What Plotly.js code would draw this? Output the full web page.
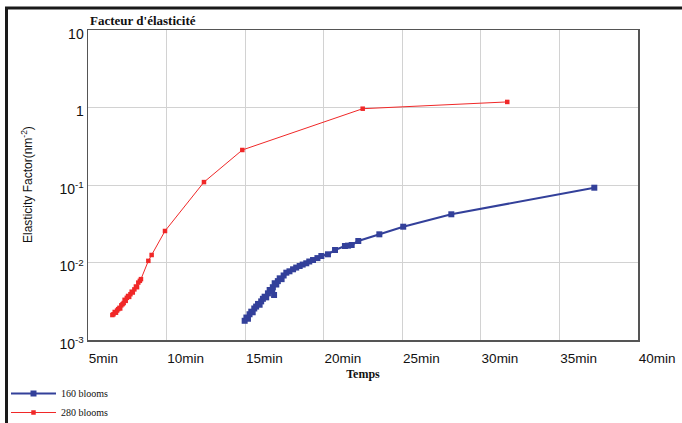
<!DOCTYPE html>
<html>
<head>
<meta charset="utf-8">
<script src="https://cdn.plot.ly/plotly-3.0.1.min.js"></script>
<style>html,body{margin:0;padding:0;background:#fff;}#chart{width:682px;height:423px;}</style>
</head>
<body>
<div id="chart"></div>
<script>
// Time (min) and elasticity factor values
const blueTime = [14.97, 15.08, 15.18, 15.28, 15.39, 15.48, 15.58, 15.70, 15.82, 15.92, 16.02, 16.13, 16.24, 16.34, 16.45, 16.56, 16.66, 16.76, 16.84, 16.88, 16.98, 17.08, 17.20, 17.32, 17.45, 17.62, 17.82, 18.05, 18.25, 18.47, 18.66, 18.89, 19.08, 19.32, 19.60, 19.85, 20.27, 20.72, 21.35, 21.55, 21.78, 22.20, 23.54, 25.06, 28.12, 37.22];
const blueValue = [0.00177, 0.00195, 0.00188, 0.00215, 0.00232, 0.00228, 0.00255, 0.00270, 0.00292, 0.00285, 0.00315, 0.00340, 0.00362, 0.00355, 0.00400, 0.00442, 0.00430, 0.00480, 0.00381, 0.00540, 0.00520, 0.00575, 0.00625, 0.00610, 0.00680, 0.00739, 0.00770, 0.00817, 0.00860, 0.00901, 0.00940, 0.00977, 0.01030, 0.01076, 0.01140, 0.01213, 0.01276, 0.01449, 0.01633, 0.01650, 0.01683, 0.01893, 0.02311, 0.02897, 0.04188, 0.0923];

const redTime = [6.55, 6.62, 6.70, 6.78, 6.85, 6.92, 7.00, 7.05, 7.12, 7.20, 7.27, 7.33, 7.40, 7.47, 7.55, 7.62, 7.70, 7.78, 7.85, 7.95, 8.05, 8.12, 8.20, 8.30, 8.37, 8.84, 9.05, 9.90, 12.38, 14.82, 22.48, 31.68];
const redValue = [0.00210, 0.00215, 0.00230, 0.00225, 0.00240, 0.00250, 0.00260, 0.00255, 0.00280, 0.00290, 0.00300, 0.00330, 0.00320, 0.00350, 0.00370, 0.00360, 0.00390, 0.00420, 0.00410, 0.00450, 0.00490, 0.00480, 0.00550, 0.00580, 0.00610, 0.01050, 0.01250, 0.02550, 0.109, 0.283, 0.965, 1.18];

const seriesNames = ['160 blooms', '280 blooms'];
const xTickVals = [5, 10, 15, 20, 25, 30, 35, 40];
const xTickText = ['5min', '10min', '15min', '20min', '25min', '30min', '35min', '40min'];
const yTickVals = [0.001, 0.01, 0.1, 1, 10];
const yTickText = ['10<sup>-3</sup>', '10<sup>-2</sup>', '10<sup>-1</sup>', '1', '10'];

const traces = [
  {
    x: blueTime, y: blueValue, name: seriesNames[0], type: 'scatter', mode: 'lines+markers',
    line: {color: '#33409a', width: 2},
    marker: {symbol: 'square', size: 6, color: '#33409a'}
  },
  {
    x: redTime, y: redValue, name: seriesNames[1], type: 'scatter', mode: 'lines+markers',
    line: {color: '#f02828', width: 1},
    marker: {symbol: 'square', size: 4.5, color: '#f02828'}
  }
];

const L = 88, R = 44, T = 30, B = 83, W = 682, H = 423;
const pw = W - L - R, ph = H - T - B;
const px = v => (v - L) / pw;
const py = v => (H - B - v) / ph;

const layout = {
  width: W, height: H,
  margin: {l: L, r: R, t: T, b: B, autoexpand: false},
  paper_bgcolor: '#fff', plot_bgcolor: '#fff',
  font: {family: 'Liberation Sans, Arial, sans-serif', color: '#111'},
  xaxis: {
    range: [5, 40], tickvals: xTickVals, ticktext: xTickText,
    ticklabelposition: 'outside right', ticklabeloverflow: 'allow', ticklabelstandoff: 5,
    showline: true, mirror: true, linecolor: '#555', linewidth: 1.5,
    showgrid: true, gridcolor: '#d2d2d2', gridwidth: 1, zeroline: false, ticks: '',
    tickfont: {family: 'Liberation Sans, Arial, sans-serif', size: 13.5, color: '#111'},
    title: {text: '<b>Temps</b>', font: {family: 'Liberation Serif, serif', size: 12, color: '#111'}, standoff: 5}
  },
  yaxis: {
    type: 'log', range: [-3, 1], tickvals: yTickVals, ticktext: yTickText,
    ticklabelshift: 4,
    showline: true, mirror: true, linecolor: '#555', linewidth: 1.5,
    showgrid: true, gridcolor: '#d2d2d2', gridwidth: 1, zeroline: false, ticks: '',
    tickfont: {family: 'Liberation Sans, Arial, sans-serif', size: 14, color: '#111'}
  },
  showlegend: true,
  legend: {
    x: px(6), y: py(379), xanchor: 'left', yanchor: 'top',
    bgcolor: 'rgba(0,0,0,0)', traceorder: 'normal', itemwidth: 45,
    font: {family: 'Liberation Serif, serif', size: 10, color: '#111'}
  },
  annotations: [
    {text: '<b>Facteur d\'élasticité</b>', xref: 'paper', yref: 'paper', x: 0, y: 1,
     xanchor: 'left', yanchor: 'bottom', showarrow: false,
     font: {family: 'Liberation Serif, serif', size: 13, color: '#111'}},
    {text: 'Elasticity Factor(nm<sup>-2</sup>)', xref: 'paper', yref: 'paper', x: px(27), y: 0.5,
     xanchor: 'center', yanchor: 'middle', textangle: -90, showarrow: false,
     font: {family: 'Liberation Sans, Arial, sans-serif', size: 12, color: '#111'}}
  ],
  shapes: [
    {type: 'line', xref: 'paper', yref: 'paper', x0: px(5), x1: px(682), y0: py(8), y1: py(8),
     line: {color: '#1a1a1a', width: 3}},
    {type: 'line', xref: 'paper', yref: 'paper', x0: px(6.5), x1: px(6.5), y0: py(7), y1: py(423),
     line: {color: '#1a1a1a', width: 3}}
  ]
};

Plotly.newPlot('chart', traces, layout, {displayModeBar: false, staticPlot: true});
</script>
</body>
</html>
